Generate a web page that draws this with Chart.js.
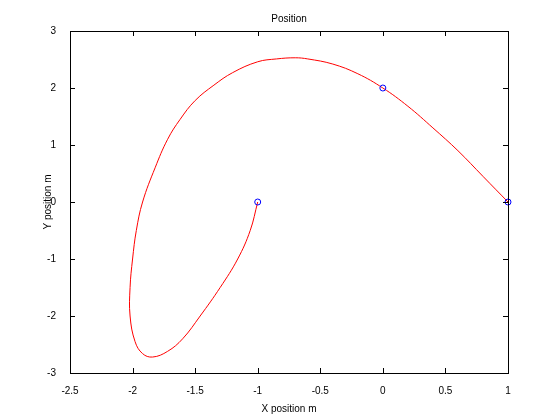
<!DOCTYPE html><html><head><script src="https://cdn.jsdelivr.net/npm/chart.js@4"></script>
<style>body{margin:0;background:#fff}#w{width:560px;height:419px}</style></head><body><div id="w"><canvas id="c"></canvas></div>
<script>
const pathX=[1,0.8,0.6,0.4,0.2,0,-0.2,-0.4,-0.6,-0.7,-0.85,-1.0,-1.2,-1.35,-1.5,-1.62,-1.72,-1.82,-1.92,-1.97,-2.0,-2.02,-2.02,-1.98,-1.92,-1.84,-1.72,-1.6,-1.46,-1.3,-1.16,-1.06,-1.0];
const pathY=[0,0.45,0.9,1.3,1.68,2.0,2.25,2.42,2.51,2.53,2.51,2.46,2.27,2.05,1.78,1.45,1.1,0.6,0,-0.5,-1.0,-1.5,-2.0,-2.45,-2.66,-2.72,-2.62,-2.4,-2.0,-1.5,-1.0,-0.5,0];
const markX=[-1,0,1];
const markY=[0,2,0];
const F='"Liberation Sans", Arial, sans-serif';
const frame={id:'frame',afterDraw(ch){const a=ch.chartArea,c=ch.ctx;c.save();c.strokeStyle='#000';c.lineWidth=1;
c.strokeRect(a.left+0.5,a.top+0.5,a.right-a.left,a.bottom-a.top);
const xs=ch.scales.x,ys=ch.scales.y;c.beginPath();
xs.ticks.forEach(t=>{const p=Math.round(xs.getPixelForValue(t.value))+0.5;c.moveTo(p,a.bottom);c.lineTo(p,a.bottom-5);c.moveTo(p,a.top);c.lineTo(p,a.top+5);});
ys.ticks.forEach(t=>{const p=Math.round(ys.getPixelForValue(t.value))+0.5;c.moveTo(a.left,p);c.lineTo(a.left+5,p);c.moveTo(a.right,p);c.lineTo(a.right-5,p);});
c.stroke();c.fillStyle='#000';c.font='10px '+F;c.textAlign='center';c.fillText('Position',(a.left+a.right)/2,22);c.restore();}};
const fmt=v=>String(Math.round(v*10)/10);
new Chart(document.getElementById('c'),{type:'scatter',data:{datasets:[
{data:markX.map((x,i)=>({x,y:markY[i]})),showLine:false,pointRadius:3,pointBorderColor:'#0000ff',pointBackgroundColor:'transparent',pointBorderWidth:1,clip:false},
{data:pathX.map((x,i)=>({x,y:pathY[i]})),showLine:true,borderColor:'#ff0000',borderWidth:1,pointRadius:0,tension:0.4}
]},options:{animation:false,responsive:true,maintainAspectRatio:false,
layout:{padding:{left:38,right:52,top:31,bottom:0}},
plugins:{legend:{display:false},tooltip:{enabled:false}},
scales:{x:{min:-2.5,max:1,ticks:{stepSize:0.5,callback:fmt,color:'#000',font:{size:10,family:F},padding:4},grid:{display:false},border:{display:false},
title:{display:true,text:'X position m',color:'#000',font:{size:10,family:F},padding:{top:2}},afterFit(s){s.height=46;}},
y:{min:-3,max:3,ticks:{stepSize:1,callback:fmt,color:'#000',font:{size:10,family:F},padding:6},grid:{display:false},border:{display:false},
title:{display:true,text:'Y position m',color:'#000',font:{size:10,family:F},padding:{bottom:0}},afterFit(s){s.width=32;}}}},plugins:[frame]});
</script></body></html>
